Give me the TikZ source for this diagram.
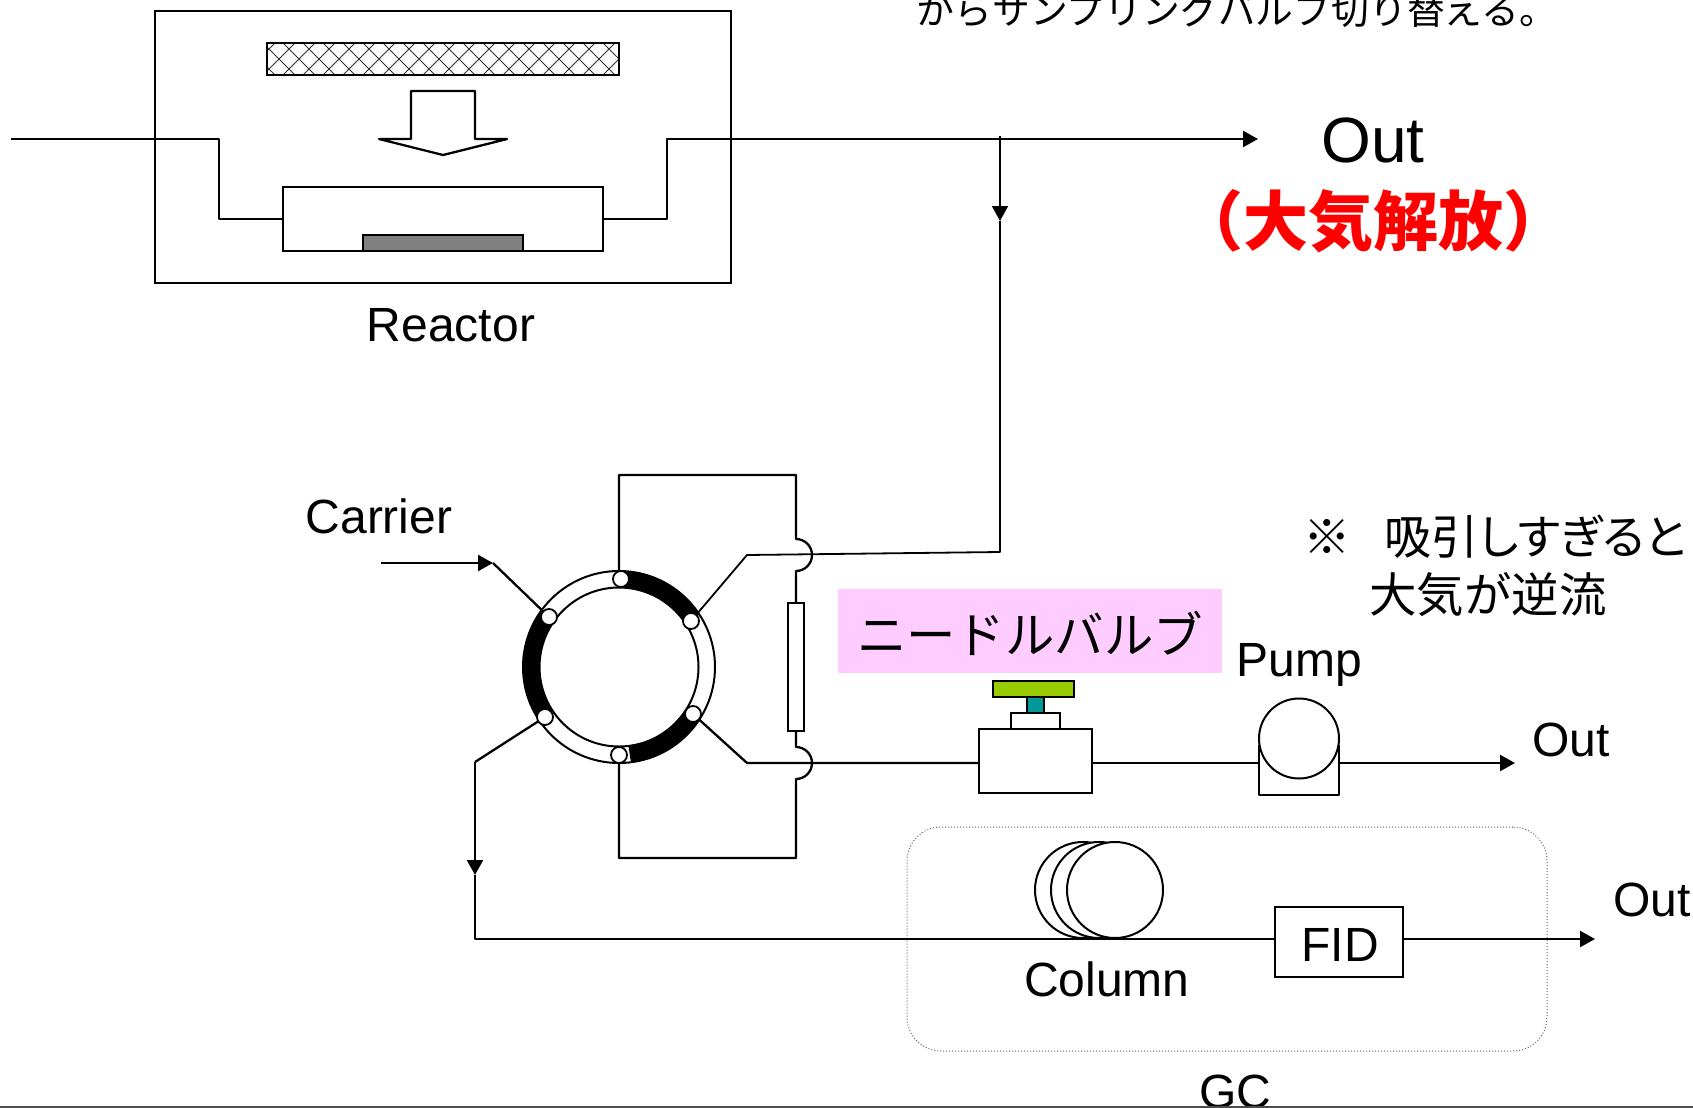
\documentclass[tikz,border=0pt]{standalone}
\usepackage{fontspec}
\setmainfont{Liberation Sans}
\newfontfamily\cjk{Noto Sans CJK JP}
\newfontfamily\cjkp[RawFeature=+palt]{Noto Sans CJK JP}
\usetikzlibrary{arrows.meta,positioning,calc}
\definecolor{needlepink}{HTML}{FFCCFF}
\definecolor{knobgreen}{HTML}{99CC00}
\definecolor{stemteal}{HTML}{009999}
\tikzset{box/.style={draw,rectangle,fill=white,inner sep=0pt,outer sep=0pt,line width=1.1pt},
 port/.style={draw,circle,fill=white,inner sep=0pt,outer sep=0pt,minimum size=8pt,line width=.9pt},
 disc/.style={draw,circle,fill=white,inner sep=0pt,outer sep=0pt,line width=1pt},
 pipe/.style={line width=1.15pt,line join=round},
 arr/.style={pipe,-{Triangle[length=7.5pt,width=8pt]}},
 lab/.style={inner sep=0pt,font=\fontsize{24}{28}\selectfont},
 jlab/.style={inner sep=0pt,font=\cjk\fontsize{23.7}{29}\selectfont}}
\begin{document}
\begin{tikzpicture}[x=.5pt,y=-.5pt]
\useasboundingbox(0,0) rectangle (1693,1108);
% reactor
\node[box,minimum width=288pt,minimum height=136pt](reactor) at(443,147){};
\coordinate(gasin) at(11,139);\coordinate(ventout) at(1258,139);\coordinate(tee) at(1000,136);
\node[box,minimum width=160pt,minimum height=32pt](stage) at(443,219){};
\node[box,fill=gray,minimum width=80pt,minimum height=8pt](sample) at(443,243){};
\node[box,minimum width=176pt,minimum height=16pt,path picture={
 \foreach \i in {-200,-180,...,180}{\draw[line width=.5pt,black!80](\i,-16)--++(32,32)(\i,16)--++(32,-32);}
 }](heater) at(443,59){};
\draw[pipe,fill=white](411,91)--(475,91)--(475,139)--(507,139)--(443,155)--(379,139)--(411,139)--cycle;
\draw[pipe](gasin)--(219,139)--(219,219)--(stage.west);
\draw[arr](stage.east)--(667,219)--(667,139)--(ventout);
\node[lab](reactorlab) at(451,325){Reactor};
\node[font=\fontsize{32}{38}\selectfont,inner sep=0pt](outbig) at(1373,140){Out};
\node[inner sep=0pt,text=red,font=\cjk\bfseries\fontsize{32.5}{38}\selectfont](vent) at(1373,221){（大気解放）};
\node[inner sep=0pt,font=\cjk\fontsize{18.9}{22}\selectfont](note) at(1237,10){からサンプリングバルブ切り替える。};
% valve ring
\node[disc,minimum size=96pt,line width=1pt](ring) at(619,667){};
\draw[line width=8pt]($(ring)+(87:44pt)$) arc[start angle=87,end angle=33,radius=44pt];
\draw[line width=8pt]($(ring)+(145:44pt)$) arc[start angle=145,end angle=214,radius=44pt];
\draw[line width=8pt]($(ring)+(-83:44pt)$) arc[start angle=-83,end angle=-33,radius=44pt];
\node[disc,minimum size=79.5pt,line width=1pt](ringin) at(619,667){};
\node[port](pa) at(621,579){};\node[port](pb) at(691,621){};\node[port](pc) at(693,714){};
\node[port](pd) at(619,755){};\node[port](pe) at(545,717){};\node[port](pf) at(549,617){};
\node[box,minimum width=8pt,minimum height=64pt](loop) at(796,667){};
\draw[pipe](ring.north)--(619,475)--(796,475)--(796,539) arc[start angle=90,end angle=-90,radius=8pt]--(loop.north);
\draw[pipe](loop.south)--(796,747) arc[start angle=90,end angle=-90,radius=8pt]--(796,858)--(619,858)--(ring.south);
\draw[arr,line width=.8pt](tee)--(1000,221);
\draw[pipe,line width=.9pt](1000,221)--(1000,552)--(747,555)--(pb);
\coordinate(carin) at(381,563);
\node[lab](carrierlab) at(379,516){Carrier};
\draw[arr](carin)--(493,563);\draw[pipe](493,563)--(pf);
% needle valve and pump
\node[fill=needlepink,minimum width=192pt,minimum height=42pt,inner sep=0pt](needle) at(1030,631){};
\node[inner sep=0pt,font=\cjk\fontsize{24.7}{29}\selectfont](needlelab) at(1030,633){ニードルバルブ};
\node[box,minimum width=56.5pt,minimum height=32pt](valve) at(1035.5,761){};
\node[box,minimum width=24.5pt,minimum height=8pt](bonnet) at(1035.5,721){};
\node[box,fill=stemteal,minimum width=8.5pt,minimum height=8pt](stem) at(1035.5,705){};
\node[box,fill=knobgreen,minimum width=40.5pt,minimum height=8pt](knob) at(1033.5,689){};
\draw[pipe](1259,745)--(1259,795)--(1339,795)--(1339,745);
\node[disc,minimum size=40pt,line width=1pt](pump) at(1299,738.5){};
\coordinate(pumpout) at(1515,763);
\draw[pipe](pc)--(747,763)--(valve.west|-pumpout);
\draw[pipe](valve.east|-pumpout)--(1259,763);
\draw[arr](1339,763)--(pumpout);
\node[lab](pumplab) at(1299,665){Pump};
\node[lab](pumpoutlab) at(1571,740){Out};
\node[jlab,align=left,anchor=west](warn) at(1303,566){※\hspace*{17pt}{\cjkp\fontsize{23.5}{29}\selectfont 吸引しすぎると}\\\hspace*{33pt}大気が逆流};
% GC
\node[draw=black!60,densely dotted,line width=.5pt,rounded corners=17pt,inner sep=0pt,minimum width=320pt,minimum height=112pt](gc) at(1227,939){};
\node[disc](cola) at(1083,890)[minimum size=48pt]{};
\node[disc](colb) at(1099,890)[minimum size=48pt]{};
\node[disc](colc) at(1115,890)[minimum size=48pt]{};
\node[box,minimum width=64pt,minimum height=35pt,lab](fid) at(1339,942){};
\node[lab](fidlab) at(1340,945){FID};
\coordinate(fidout) at(1595,939);
\draw[pipe](pe)--(475,762);
\draw[arr](475,762)--(475,875);
\draw[pipe](475,875)--(475,939)--(fid.west|-fidout);
\draw[arr](fid.east|-fidout)--(fidout);
\node[lab](collab) at(1107,979){Column};
\node[lab](fidoutlab) at(1652,900){Out};
\node[lab](gclab) at(1235,1092){GC};
\coordinate(rulea) at(0,1107);\coordinate(ruleb) at(1693,1107);
\draw[line width=1pt,black!70](rulea)--(ruleb);
\end{tikzpicture}
\end{document}
